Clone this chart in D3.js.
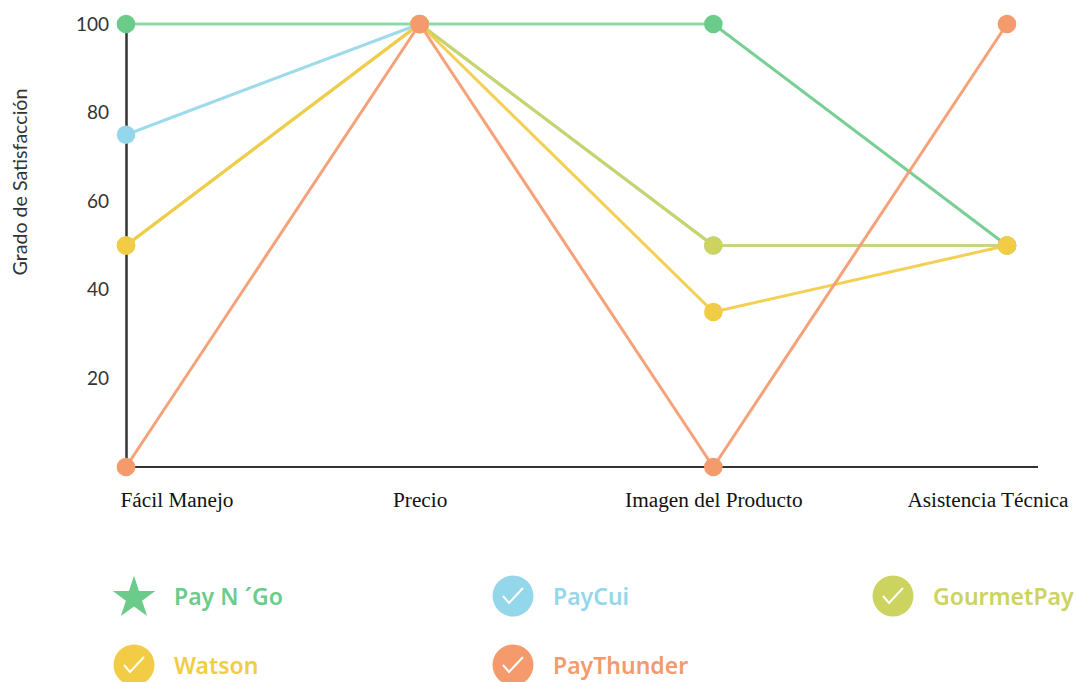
<!DOCTYPE html>
<html>
<head>
<meta charset="utf-8">
<script src="https://cdn.jsdelivr.net/npm/d3@7"></script>
<style>
  body { margin: 0; background: #fff; }
  svg { display: block; }
</style>
</head>
<body>
<div id="chart"></div>
<script>
const categories = ["Fácil Manejo", "Precio", "Imagen del Producto", "Asistencia Técnica"];
const yTicks = [20, 40, 60, 80, 100];

const payNGo = [100, 100, 100, 50];
const payCui = [75, 100, 50, 50];
const gourmetPay = [50, 100, 50, 50];
const watson = [50, 100, 35, 50];
const payThunder = [0, 100, 0, 100];

const seriesNames = ["Pay N ´Go", "PayCui", "GourmetPay", "Watson", "PayThunder"];
const seriesValues = [payNGo, payCui, gourmetPay, watson, payThunder];
const seriesColors = ["#6bcb8b", "#95d7ea", "#ccd35e", "#f2cc45", "#f49a6c"];

const width = 1076;
const height = 682;

const svg = d3.select("#chart")
  .append("svg")
  .attr("width", width)
  .attr("height", height);

const x = d3.scalePoint().domain(categories).range([126, 1007]);
const y = d3.scaleLinear().domain([0, 100]).range([467, 24]);

// axes
const yAxis = svg.append("g")
  .attr("transform", `translate(${x(categories[0])},0)`)
  .call(d3.axisLeft(y).tickValues(yTicks).tickSize(0).tickPadding(17));

yAxis.select(".domain").attr("stroke", "#333").attr("stroke-width", 2.5);
yAxis.selectAll("text")
  .attr("font-family", "Lato")
  .attr("font-size", 19)
  .attr("fill", "#333");

const xAxis = svg.append("g")
  .attr("transform", `translate(0,${y(0)})`)
  .call(d3.axisBottom(x).tickSize(0).tickPadding(25));

// baseline runs a bit past the last category
xAxis.select(".domain")
  .attr("d", `M${x.range()[0]},0H1038`)
  .attr("stroke", "#333")
  .attr("stroke-width", 2);

xAxis.selectAll("text")
  .attr("font-family", "Liberation Serif")
  .attr("font-size", 21.3)
  .attr("fill", "#111")
  .attr("text-anchor", (d, i) => (i === 0 ? "start" : i === 3 ? "end" : "middle"))
  .attr("dx", (d, i) => (i === 0 ? -6 : i === 3 ? 61 : 0));

svg.append("text")
  .attr("transform", "translate(27,182) rotate(-90)")
  .attr("text-anchor", "middle")
  .attr("font-family", "Lato")
  .attr("font-size", 19.6)
  .attr("fill", "#333")
  .text("Grado de Satisfacción");

// one group per company, lines first and dots on top
const line = d3.line()
  .x((d) => x(d.category))
  .y((d) => y(d.value));

const groups = svg.append("g")
  .selectAll("g")
  .data(seriesNames.map((name, i) => ({
    name,
    color: seriesColors[i],
    points: categories.map((category, j) => ({ category, value: seriesValues[i][j] })),
  })))
  .join("g");

groups.selectAll("path")
  .data((d) => d3.pairs(d.points).map((pair) => ({ pair, color: d.color })))
  .join("path")
  .attr("d", (d) => line(d.pair))
  .attr("fill", "none")
  .attr("stroke", (d) => d.color)
  .attr("stroke-width", 3)
  // flat runs read paler than the slanted ones
  .attr("stroke-opacity", (d) => (d.pair[0].value === d.pair[1].value ? 0.75 : 0.92));

groups.selectAll("circle")
  .data((d) => d.points.map((p) => ({ ...p, color: d.color })))
  .join("circle")
  .attr("cx", (d) => x(d.category))
  .attr("cy", (d) => y(d.value))
  .attr("r", 9.3)
  .attr("fill", (d) => d.color);

// legend
const legendX = [134, 513, 893];
const legendY = [596, 665];

const legend = svg.append("g")
  .selectAll("g")
  .data(seriesNames)
  .join("g")
  .attr("transform", (d, i) => `translate(${legendX[i % 3]},${legendY[Math.floor(i / 3)]})`);

legend.filter((d, i) => i === 0)
  .append("path")
  .attr("d", d3.symbol().type(d3.symbolStar).size(560))
  .attr("transform", "translate(0,2)")
  .attr("fill", seriesColors[0]);

const checked = legend.filter((d, i) => i > 0);

checked.append("circle")
  .attr("r", 20.5)
  .attr("fill", (d) => seriesColors[seriesNames.indexOf(d)]);

checked.append("path")
  .attr("d", "M-10,0L-4,7L10,-8")
  .attr("fill", "none")
  .attr("stroke", "#fff")
  .attr("stroke-width", 2);

legend.append("text")
  .attr("x", 40)
  .attr("y", 9)
  .attr("font-family", "Noto Sans")
  .attr("font-size", 23)
  .attr("font-weight", 600)
  .attr("fill", (d) => seriesColors[seriesNames.indexOf(d)])
  .text((d) => d);
</script>
</body>
</html>
